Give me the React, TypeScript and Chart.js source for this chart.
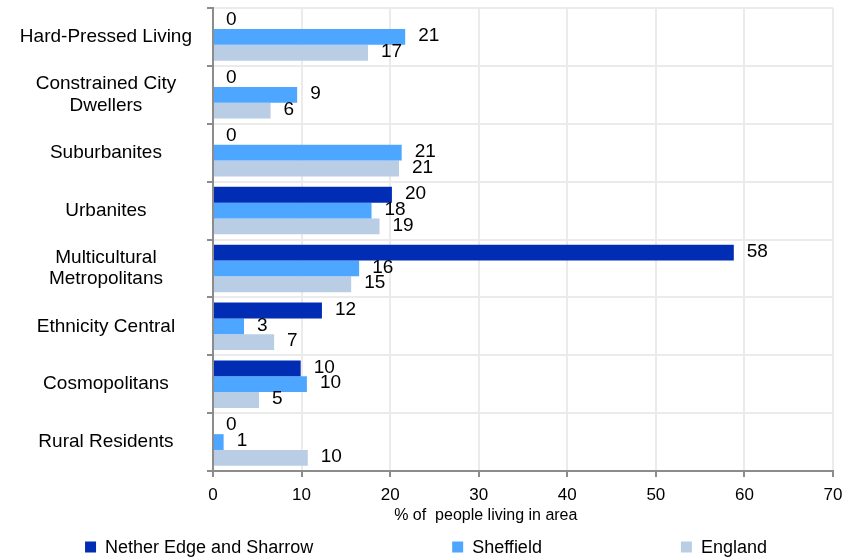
import React, { useEffect, useRef } from "react";
import { Chart, registerables } from "chart.js";

Chart.register(...registerables);

const categories: (string | string[])[] = [
  "Hard-Pressed Living",
  ["Constrained City", "Dwellers"],
  "Suburbanites",
  "Urbanites",
  ["Multicultural", "Metropolitans"],
  "Ethnicity Central",
  "Cosmopolitans",
  "Rural Residents",
];

const seriesNames = ["Nether Edge and Sharrow", "Sheffield", "England"];

const netherValues = [0, 0, 0, 20.2, 58.8, 12.3, 9.9, 0];
const sheffieldValues = [21.7, 9.5, 21.3, 17.9, 16.5, 3.5, 10.6, 1.2];
const englandValues = [17.5, 6.5, 21.0, 18.8, 15.6, 6.9, 5.2, 10.7];

const netherLabels = [0, 0, 0, 20, 58, 12, 10, 0];
const sheffieldLabels = [21, 9, 21, 18, 16, 3, 10, 1];
const englandLabels = [17, 6, 21, 19, 15, 7, 5, 10];

const xTitle = "% of  people living in area";

const colors = ["#002DB3", "#4DA6FF", "#B9CDE5"];
const FONT = '"Liberation Sans", Arial, sans-serif';

export default function App() {
  const ref = useRef<HTMLCanvasElement | null>(null);

  useEffect(() => {
    document.body.style.margin = "0";
    const canvas = ref.current;
    if (!canvas) return;
    const labelSets = [netherLabels, sheffieldLabels, englandLabels];

    const labelsPlugin = {
      id: "customLabels",
      afterDatasetsDraw(chart: any) {
        const ctx = chart.ctx;
        ctx.save();
        ctx.font = `19px ${FONT}`;
        ctx.fillStyle = "#000";
        ctx.textAlign = "left";
        ctx.textBaseline = "middle";
        chart.data.datasets.forEach((_ds: any, di: number) => {
          const meta = chart.getDatasetMeta(di);
          meta.data.forEach((bar: any, i: number) => {
            ctx.fillText(String(labelSets[di][i]), bar.x + 13, bar.y - 1);
          });
        });
        ctx.restore();
      },
      afterDraw(chart: any) {
        const ctx = chart.ctx;
        const ca = chart.chartArea;
        ctx.save();
        // axis title
        ctx.font = `16px ${FONT}`;
        ctx.fillStyle = "#000";
        ctx.textAlign = "center";
        ctx.textBaseline = "middle";
        ctx.fillText(xTitle, ca.left + (ca.right - ca.left) * 0.44, ca.bottom + 45);
        // legend
        ctx.font = `18px ${FONT}`;
        const box = 11;
        const gapText = 9;
        const gapItem = 139;
        const widths = seriesNames.map((n) => box + gapText + ctx.measureText(n).width);
        const total = widths.reduce((a, b) => a + b, 0) + gapItem * (seriesNames.length - 1);
        let x = chart.width / 2 - total / 2;
        const y = chart.height - 11;
        ctx.textAlign = "left";
        seriesNames.forEach((n, i) => {
          ctx.fillStyle = colors[i];
          ctx.fillRect(x, y - box / 2, box, box);
          ctx.fillStyle = "#000";
          ctx.fillText(n, x + box + gapText, y + 1);
          x += widths[i] + gapItem;
        });
        ctx.restore();
      },
    };

    const chart = new Chart(canvas, {
      type: "bar",
      data: {
        labels: categories as any,
        datasets: [
          { label: seriesNames[0], data: netherValues, backgroundColor: colors[0] },
          { label: seriesNames[1], data: sheffieldValues, backgroundColor: colors[1] },
          { label: seriesNames[2], data: englandValues, backgroundColor: colors[2] },
        ],
      },
      options: {
        indexAxis: "y",
        animation: false,
        responsive: false,
        maintainAspectRatio: false,
        datasets: {
          bar: { categoryPercentage: 0.82, barPercentage: 1.0 },
        },
        layout: { padding: { top: 8, right: 19, bottom: 0, left: 0 } },
        plugins: {
          legend: { display: false },
          tooltip: { enabled: false },
        },
        scales: {
          x: {
            min: 0,
            max: 70,
            ticks: {
              stepSize: 10,
              font: { family: FONT, size: 17 },
              color: "#000",
              padding: 8,
            },
            grid: {
              color: "#ebebeb",
              lineWidth: 2,
              tickColor: "#8c8c8c",
              tickLength: 6,
            },
            border: { color: "#8c8c8c", width: 2 },
            afterFit(scale: any) {
              scale.height = 87;
              scale.paddingLeft = 0;
              scale.paddingRight = 0;
            },
          },
          y: {
            offset: true,
            ticks: {
              font: { family: FONT, size: 19, lineHeight: 1.13 },
              color: "#000",
              crossAlign: "center",
              padding: 15,
            },
            grid: {
              offset: true,
              color: "#ebebeb",
              lineWidth: 2,
              tickColor: "#8c8c8c",
              tickLength: 6,
            },
            border: { color: "#8c8c8c", width: 2 },
            afterFit(scale: any) {
              scale.width = 213;
              scale.paddingTop = 0;
              scale.paddingBottom = 0;
            },
          },
        },
      },
      plugins: [labelsPlugin],
    });

    return () => chart.destroy();
  }, []);

  return <canvas ref={ref} width={852} height={558} style={{ display: "block" }} />;
}
